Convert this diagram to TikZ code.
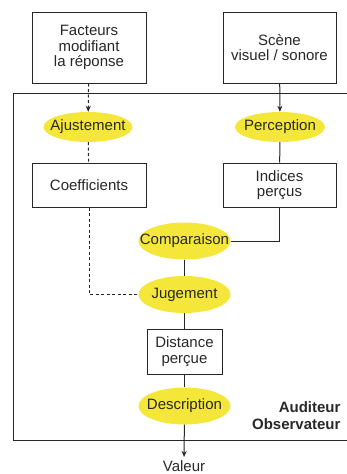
\documentclass[tikz,border=0pt]{standalone}
\usepackage{fontspec}
\setmainfont{Liberation Sans}
\usetikzlibrary{shapes.geometric,arrows.meta}
\definecolor{ellyellow}{RGB}{245,231,58}
\definecolor{texte}{RGB}{40,40,40}
\newcommand{\mot}[1]{\makebox[0pt]{#1}}

\tikzset{
  boite/.style={draw=black!85, line width=1pt, fill=white, align=center, inner sep=0pt},
  etape/.style={ellipse, fill=ellyellow, minimum width=92pt, minimum height=37pt, inner sep=0pt},
  fleche/.style={line width=1pt, -{Stealth[length=6pt,width=5pt]}},
  pointille/.style={dash pattern=on 3pt off 2.5pt},
}

\begin{document}
\begin{tikzpicture}[x=1pt, y=-1pt, font=\fontsize{15}{15.5}\selectfont, text=texte, draw=black!85]
\useasboundingbox (0,0) rectangle (346,474);
\draw[line width=1pt] (13,93) rectangle (352,440);

\node[boite, minimum width=114pt, minimum height=71pt] (facteurs) at (89,47.5) {Facteurs\\modifiant\\la réponse};
\node[boite, minimum width=113pt, minimum height=71pt] (scene) at (279.5,47.5) {Scène\\visuel / sonore};

\node[etape, minimum width=89pt, minimum height=30pt] (ajust) at (88,127) {\mot{Ajustement}};
\node[etape, minimum width=90pt, minimum height=30pt] (percep) at (280,127) {\mot{Perception}};

\node[boite, minimum width=114pt, minimum height=44pt] (coeff) at (89,185) {Coefficients};
\node[boite, minimum width=113pt, minimum height=44pt] (indices) at (279.5,185) {Indices\\perçus};

\node[etape] (compar) at (184.5,241) {\mot{Comparaison}};
\node[etape] (jugem) at (184.5,294.5) {\mot{Jugement}};

\node[boite, minimum width=75pt, minimum height=45pt] (distance) at (184.5,351.5) {Distance\\perçue};
\node[etape] (descr) at (184.5,406) {\mot{Description}};

\node[font=\fontsize{15}{17}\selectfont\bfseries, align=right, anchor=east] (auditeur) at (344,416) {Auditeur\\Observateur};
\node (valeur) at (184,466) {Valeur};

\draw[fleche, pointille] (facteurs) -- (ajust);
\draw[fleche] (scene) -- (percep);
\draw[line width=1pt, pointille] (ajust) -- (coeff);
\draw[line width=1pt] (percep) -- (indices);
\draw[line width=1pt] (indices.south) |- (compar.east);
\draw[line width=1pt] (compar) -- (jugem);
\draw[line width=1pt, pointille] (coeff.south) |- (jugem.west);
\draw[line width=1pt] (jugem) -- (distance);
\draw[line width=1pt] (distance) -- (descr);
\draw[fleche] (descr) -- (valeur);
\end{tikzpicture}
\end{document}
